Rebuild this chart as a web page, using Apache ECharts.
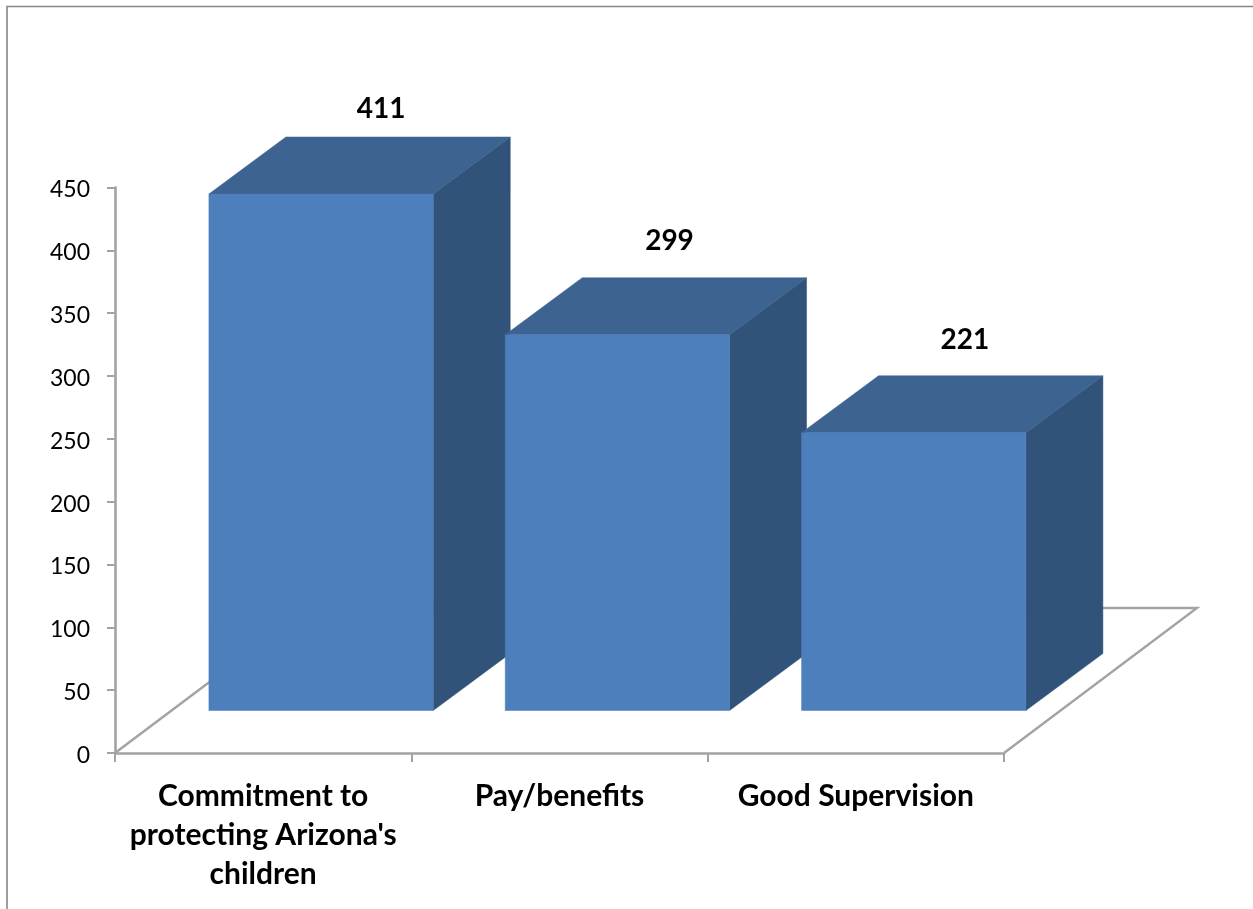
<!DOCTYPE html>
<html>
<head>
<meta charset="utf-8">
<style>html,body{margin:0;padding:0;background:#fff}#c{width:1253px;height:909px}</style>
<script src="https://cdn.jsdelivr.net/npm/echarts@6/dist/echarts.min.js"></script>
</head>
<body>
<div id="c"></div>
<script>
const categories = ["Commitment to\nprotecting Arizona's\nchildren", "Pay/benefits", "Good Supervision"];
const values = [411, 299, 221];
const yTicks = {min: 0, max: 450, interval: 50};

const FONT = 'Lato';
const AXIS = '#a3a3a3';
const FRONT = '#4d7fbc', TOP = '#3d6390', SIDE = '#315379';
const FLOOR_DEPTH = [193, -145];
const BAR_SHIFT = [57.9, -42.5];
const BAR_DEPTH = [77, -57];
const BAR_RATIO = 0.757;
const LABEL_OFFSETS = [[118, -128], [110, -136], [109, -135]];

const chart = echarts.init(document.getElementById('c'), null, {renderer: 'canvas'});

function poly(points, fill) {
  return {type: 'polygon', shape: {points}, style: {fill, stroke: fill, lineWidth: 0.5}};
}

function renderBar(params, api) {
  const i = api.value(0), v = api.value(1);
  const base = api.coord([i, 0]), head = api.coord([i, v]);
  const w = api.size([1, 0])[0] * BAR_RATIO;
  const l = base[0] - w / 2 + BAR_SHIFT[0], r = l + w;
  const b = base[1] + BAR_SHIFT[1], t = head[1] + BAR_SHIFT[1];
  const dx = BAR_DEPTH[0], dy = BAR_DEPTH[1];
  const off = LABEL_OFFSETS[i];
  return {type: 'group', children: [
    poly([[r, t], [r + dx, t + dy], [r + dx, b + dy], [r, b]], SIDE),
    poly([[l, t], [l + dx, t + dy], [r + dx, t + dy], [r, t]], TOP),
    poly([[l, t], [r, t], [r, b], [l, b]], FRONT),
    {type: 'text', style: {
      text: String(v), x: head[0] + off[0], y: head[1] + off[1],
      align: 'center', verticalAlign: 'middle',
      font: 'bold 28px ' + FONT, fill: '#000'
    }}
  ]};
}

function renderFloor(params, api) {
  const a = api.coord([0, 0]);
  const size = api.size([1, 0])[0];
  const x0 = a[0] - size / 2, y0 = a[1];
  const x1 = x0 + size * categories.length;
  const dx = FLOOR_DEPTH[0], dy = FLOOR_DEPTH[1];
  return {type: 'polyline', silent: true, shape: {points: [
    [x0, y0], [x0 + dx, y0 + dy], [x1 + dx, y0 + dy], [x1, y0]
  ]}, style: {fill: null, stroke: AXIS, lineWidth: 2.4}};
}

chart.setOption({
  animation: false,
  backgroundColor: '#ffffff',
  graphic: [{
    type: 'polyline', z: 0, silent: true,
    shape: {points: [[7, 909], [7, 6.5], [1253, 6.5]]},
    style: {fill: null, stroke: '#868686', lineWidth: 1.6}
  }],
  grid: {left: 115, top: 187.5, width: 889, height: 565.5, containLabel: false},
  xAxis: {
    type: 'category', data: categories, boundaryGap: true,
    axisLine: {show: true, lineStyle: {color: AXIS, width: 2.6}},
    axisTick: {show: true, alignWithLabel: false, length: 9, lineStyle: {color: AXIS, width: 2}},
    axisLabel: {margin: 23.5, interval: 0, color: '#000', fontFamily: FONT, fontWeight: 'bold', fontSize: 30, lineHeight: 39, align: 'center', verticalAlign: 'top'},
    splitLine: {show: false}
  },
  yAxis: {
    type: 'value', min: yTicks.min, max: yTicks.max, interval: yTicks.interval,
    axisLine: {show: true, onZero: false, lineStyle: {color: AXIS, width: 2.6}},
    axisTick: {show: true, length: 8, lineStyle: {color: AXIS, width: 2}},
    axisLabel: {margin: 25, color: '#000', fontFamily: FONT, fontSize: 23, verticalAlign: 'top', lineHeight: 5},
    splitLine: {show: false}
  },
  series: [
    {type: 'custom', coordinateSystem: 'cartesian2d', clip: false, z: 2, silent: true,
     renderItem: renderFloor, data: [[0, 0]], encode: {x: 0, y: 1}},
    {type: 'custom', coordinateSystem: 'cartesian2d', clip: false, z: 3, silent: true,
     renderItem: renderBar, data: values.map((v, i) => [i, v]), encode: {x: 0, y: 1}}
  ]
});
</script>
</body>
</html>
